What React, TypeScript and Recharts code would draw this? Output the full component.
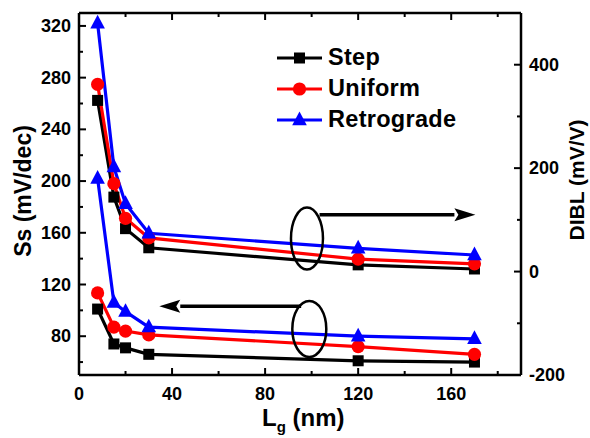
import {
  ComposedChart,
  Line,
  XAxis,
  YAxis,
  Label,
  Legend,
  ReferenceDot,
  ReferenceLine,
} from "recharts"

// gate length (nm)
const LG_NM = [8, 15, 20, 30, 120, 170]

// subthreshold swing, left axis (mV/dec)
const SS_STEP = [101, 74, 71, 66, 61, 60]
const SS_UNIFORM = [113.5, 87, 84, 81, 72, 66]
const SS_RETRO = [202, 106, 99, 87, 80, 78]

// DIBL, right axis (mV/V)
const DIBL_STEP = [331, 144, 83, 46, 13, 5]
const DIBL_UNIFORM = [362, 170, 103, 65, 24, 15]
const DIBL_RETRO = [480, 202, 131, 74, 45, 32]

const X_TICKS = [0, 20, 40, 60, 80, 100, 120, 140, 160, 180]
const X_LABELS = [0, 40, 80, 120, 160]
const SS_TICKS = [60, 80, 100, 120, 140, 160, 180, 200, 220, 240, 260, 280, 300, 320]
const SS_LABELS = [80, 120, 160, 200, 240, 280, 320]
const DIBL_TICKS = [-200, -100, 0, 100, 200, 300, 400, 500]
const DIBL_LABELS = [-200, 0, 200, 400]

const SERIES = [
  { name: "Step", color: "#000000", shape: "square", ss: "ssStep", dibl: "diblStep" },
  { name: "Uniform", color: "#ff0000", shape: "circle", ss: "ssUniform", dibl: "diblUniform" },
  { name: "Retrograde", color: "#0000ff", shape: "triangle", ss: "ssRetro", dibl: "diblRetro" },
]

const data = LG_NM.map((lg, i) => ({
  lg,
  ssStep: SS_STEP[i],
  ssUniform: SS_UNIFORM[i],
  ssRetro: SS_RETRO[i],
  diblStep: DIBL_STEP[i],
  diblUniform: DIBL_UNIFORM[i],
  diblRetro: DIBL_RETRO[i],
}))

const FONT = '"Liberation Sans", Arial, sans-serif'

function Marker({ cx, cy, shape, color }: any) {
  if (cx == null || cy == null) return null
  if (shape === "square")
    return <rect x={cx - 5.5} y={cy - 5.5} width={11} height={11} fill={color} />
  if (shape === "circle") return <circle cx={cx} cy={cy} r={6.6} fill={color} />
  return (
    <polygon
      points={`${cx},${cy - 8.5} ${cx - 7.3},${cy + 5.2} ${cx + 7.3},${cy + 5.2}`}
      fill={color}
    />
  )
}

function Tick({ x, y, payload, side, majors, labels }: any) {
  const v = payload.value
  const len = majors.includes(v) ? 7 : 4
  const show = labels.includes(v)
  const common = { fontFamily: FONT, fontWeight: 700, fontSize: 18, fill: "#000" }
  if (side === "left")
    return (
      <g>
        <line x1={x} y1={y} x2={x + len} y2={y} stroke="#000" strokeWidth={2} />
        {show && (
          <text x={x - 8} y={y} textAnchor="end" dominantBaseline="central" {...common}>
            {v}
          </text>
        )}
      </g>
    )
  if (side === "right")
    return (
      <g>
        <line x1={x} y1={y} x2={x - len} y2={y} stroke="#000" strokeWidth={2} />
        {show && (
          <text x={x + 8} y={y} textAnchor="start" dominantBaseline="central" {...common}>
            {v}
          </text>
        )}
      </g>
    )
  if (side === "top")
    return <line x1={x} y1={y} x2={x} y2={y + len} stroke="#000" strokeWidth={2} />
  return (
    <g>
      <line x1={x} y1={y} x2={x} y2={y - len} stroke="#000" strokeWidth={2} />
      {show && (
        <text x={x} y={y + 25} textAnchor="middle" {...common}>
          {v}
        </text>
      )}
    </g>
  )
}

function LegendBox() {
  return (
    <svg width={210} height={100}>
      {SERIES.map((s, i) => {
        const y = 14 + i * 31
        return (
          <g key={s.name}>
            <line x1={7} y1={y} x2={52} y2={y} stroke={s.color} strokeWidth={3} />
            <Marker cx={29.5} cy={y} shape={s.shape} color={s.color} />
            <text
              x={58}
              y={y + 6.5}
              fontFamily={FONT}
              fontWeight={700}
              fontSize={23.5}
              letterSpacing={0.3}
              fill="#000"
            >
              {s.name}
            </text>
          </g>
        )
      })}
    </svg>
  )
}

function Arrow({ x1, y1, x2, y2 }: any) {
  const dir = x2 > x1 ? 1 : -1
  const head = 21
  const bx = x2 - dir * head
  return (
    <g>
      <line x1={x1} y1={y1} x2={bx} y2={y2} stroke="#000" strokeWidth={3.5} />
      <polygon
        points={`${x2},${y2} ${bx},${y2 - 6.5} ${bx + dir * 4},${y2} ${bx},${y2 + 6.5}`}
        fill="#000"
      />
    </g>
  )
}

const ellipse = (rx: number, ry: number) => (p: any) => (
  <ellipse cx={p.cx} cy={p.cy} rx={rx} ry={ry} fill="none" stroke="#000" strokeWidth={2.5} />
)

const axisLine = { stroke: "#000", strokeWidth: 2.5 }

export default function App() {
  return (
    <div style={{ position: "absolute", left: 0, top: 0, width: 590, height: 438, background: "#fff" }}>
      <ComposedChart
        width={590}
        height={438}
        data={data}
        margin={{ top: 0, right: 0, bottom: 0, left: 0 }}
      >
        <XAxis
          dataKey="lg"
          type="number"
          domain={[0, 190]}
          allowDataOverflow
          ticks={X_TICKS}
          height={63}
          tickSize={0}
          tickMargin={0}
          tickLine={false}
          axisLine={axisLine}
          tick={(p: any) => <Tick {...p} side="bottom" majors={X_LABELS} labels={X_LABELS} />}
        >
          <Label
            content={(p: any) => {
              const vb = p.viewBox
              const cx = vb.x + vb.width / 2
              return (
                <text
                  x={cx - 38}
                  y={426}
                  fontFamily={FONT}
                  fontWeight={700}
                  fontSize={24}
                  fill="#000"
                >
                  <tspan>L</tspan>
                  <tspan dy={6} fontSize={15}>g</tspan>
                  <tspan dy={-6}> (nm)</tspan>
                </text>
              )
            }}
          />
        </XAxis>
        <XAxis
          xAxisId="top"
          orientation="top"
          dataKey="lg"
          type="number"
          domain={[0, 190]}
          allowDataOverflow
          ticks={X_TICKS}
          height={13}
          tickSize={0}
          tickMargin={0}
          tickLine={false}
          axisLine={axisLine}
          tick={(p: any) => <Tick {...p} side="top" majors={X_LABELS} labels={[]} />}
        />
        <YAxis
          yAxisId="left"
          type="number"
          domain={[50, 330]}
          allowDataOverflow
          ticks={SS_TICKS}
          width={79}
          tickSize={0}
          tickMargin={0}
          tickLine={false}
          axisLine={axisLine}
          tick={(p: any) => <Tick {...p} side="left" majors={SS_LABELS} labels={SS_LABELS} />}
        >
          <Label
            content={(p: any) => {
              const vb = p.viewBox
              const cy = vb.y + vb.height / 2 - 3
              return (
                <text
                  x={23}
                  y={cy}
                  transform={`rotate(-90 23 ${cy})`}
                  textAnchor="middle"
                  dominantBaseline="central"
                  fontFamily={FONT}
                  fontWeight={700}
                  fontSize={23}
                  fill="#000"
                >
                  Ss (mV/dec)
                </text>
              )
            }}
          />
        </YAxis>
        <YAxis
          yAxisId="right"
          orientation="right"
          type="number"
          domain={[-200, 500]}
          allowDataOverflow
          ticks={DIBL_TICKS}
          width={69}
          tickSize={0}
          tickMargin={0}
          tickLine={false}
          axisLine={axisLine}
          tick={(p: any) => <Tick {...p} side="right" majors={DIBL_LABELS} labels={DIBL_LABELS} />}
        >
          <Label
            content={() => (
              <text
                x={576}
                y={180}
                transform="rotate(-90 576 180)"
                textAnchor="middle"
                dominantBaseline="central"
                fontFamily={FONT}
                fontWeight={700}
                fontSize={21}
                fill="#000"
              >
                DIBL (mV/V)
              </text>
            )}
          />
        </YAxis>

        {SERIES.map((s) => (
          <Line
            key={s.ss}
            yAxisId="left"
            dataKey={s.ss}
            name={s.name}
            stroke={s.color}
            strokeWidth={3.2}
            isAnimationActive={false}
            dot={(p: any) => <Marker key={p.index} cx={p.cx} cy={p.cy} shape={s.shape} color={s.color} />}
          />
        ))}
        {SERIES.map((s) => (
          <Line
            key={s.dibl}
            yAxisId="right"
            dataKey={s.dibl}
            name={s.name}
            legendType="none"
            stroke={s.color}
            strokeWidth={3.2}
            isAnimationActive={false}
            dot={(p: any) => <Marker key={p.index} cx={p.cx} cy={p.cy} shape={s.shape} color={s.color} />}
          />
        ))}

        <ReferenceDot yAxisId="right" x={98} y={64} r={1} shape={ellipse(16, 31)} />
        <ReferenceDot yAxisId="left" x={99} y={85.6} r={1} shape={ellipse(17, 28)} />
        <ReferenceLine
          yAxisId="right"
          segment={[{ x: 103.4, y: 110 }, { x: 170.4, y: 110 }]}
          shape={(p: any) => <Arrow {...p} />}
        />
        <ReferenceLine
          yAxisId="left"
          segment={[{ x: 95.5, y: 103.1 }, { x: 34.5, y: 103.1 }]}
          shape={(p: any) => <Arrow {...p} />}
        />

        <Legend
          layout="vertical"
          align="center"
          verticalAlign="middle"
          content={() => <LegendBox />}
          wrapperStyle={{ left: 270, top: 44, width: 210, height: 100 }}
        />
      </ComposedChart>
    </div>
  )
}
